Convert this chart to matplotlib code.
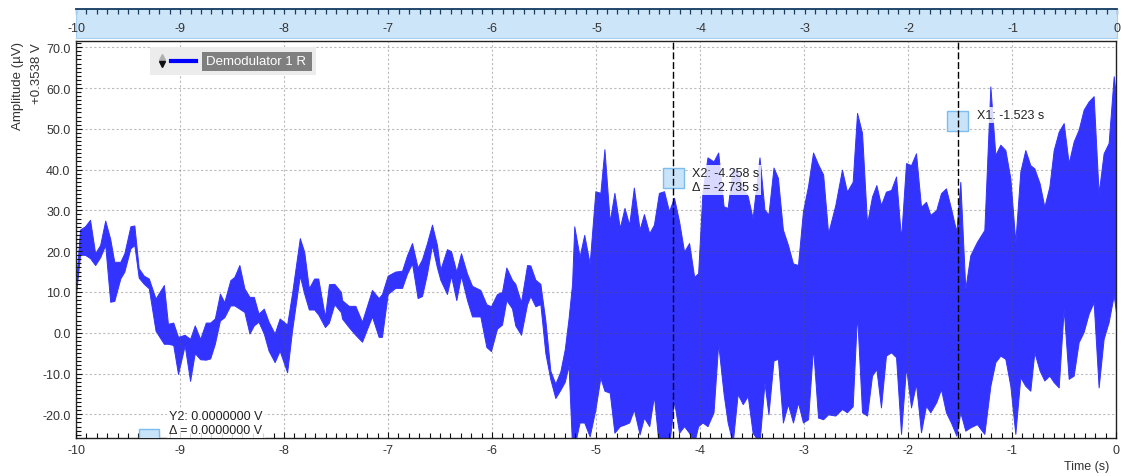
import matplotlib
matplotlib.use('Agg')
import matplotlib.pyplot as plt
from matplotlib.patches import Rectangle
from matplotlib.lines import Line2D
from matplotlib.ticker import MultipleLocator, FormatStrFormatter
from matplotlib.transforms import IdentityTransform

plt.rcParams['font.family'] = ['Liberation Sans', 'DejaVu Sans']
plt.rcParams['axes.unicode_minus'] = False

# Demodulator 1 R envelope: time (s), min / max amplitude (uV, offset +0.3538 V)
time_s = [-10.0, -9.961, -9.913, -9.865, -9.816, -9.768, -9.719, -9.671, -9.632, -9.574,
          -9.535, -9.477, -9.439, -9.397, -9.348, -9.300, -9.235, -9.155, -9.116, -9.065,
          -9.019, -8.955, -8.903, -8.858, -8.806, -8.752, -8.710, -8.665, -8.616, -8.574,
          -8.516, -8.477, -8.429, -8.381, -8.332, -8.290, -8.245, -8.194, -8.148, -8.090,
          -8.042, -7.970, -7.923, -7.848, -7.806, -7.761, -7.710, -7.671, -7.606, -7.568,
          -7.516, -7.452, -7.442, -7.378, -7.314, -7.250, -7.154, -7.090, -7.058, -7.003,
          -6.930, -6.865, -6.817, -6.769, -6.715, -6.673, -6.625, -6.577, -6.529, -6.497,
          -6.433, -6.394, -6.343, -6.298, -6.240, -6.192, -6.112, -6.054, -6.010, -5.952,
          -5.904, -5.862, -5.808, -5.776, -5.721, -5.663, -5.631, -5.583, -5.535, -5.487,
          -5.439, -5.391, -5.343, -5.300, -5.264, -5.230, -5.209, -5.158, -5.113, -5.061,
          -5.006, -4.958, -4.919, -4.868, -4.823, -4.771, -4.726, -4.681, -4.636, -4.581,
          -4.539, -4.488, -4.443, -4.395, -4.346, -4.298, -4.250, -4.201, -4.153, -4.105,
          -4.056, -4.018, -3.976, -3.928, -3.870, -3.825, -3.773, -3.734, -3.686, -3.638,
          -3.589, -3.541, -3.494, -3.428, -3.380, -3.342, -3.293, -3.251, -3.203, -3.155,
          -3.106, -3.058, -3.010, -2.961, -2.913, -2.865, -2.816, -2.768, -2.699, -2.635,
          -2.587, -2.532, -2.490, -2.442, -2.394, -2.346, -2.304, -2.260, -2.212, -2.163,
          -2.115, -2.067, -2.019, -1.971, -1.923, -1.875, -1.827, -1.785, -1.728, -1.683,
          -1.635, -1.587, -1.535, -1.497, -1.449, -1.401, -1.337, -1.266, -1.208, -1.160,
          -1.112, -1.064, -1.016, -0.968, -0.920, -0.872, -0.824, -0.785, -0.734, -0.689,
          -0.641, -0.599, -0.551, -0.503, -0.455, -0.407, -0.359, -0.311, -0.263, -0.215,
          -0.167, -0.119, -0.071, -0.022, 0.0]
r_min = [9.5, 19.1, 19.1, 18.3, 16.6, 18.5, 21.5, 7.6, 7.8, 13.3,
         15.0, 20.7, 21.5, 13.5, 12.0, 10.9, 0.5, -2.7, -2.7, -3.0,
         -10.1, -3.1, -11.8, -5.0, -6.5, -6.6, -6.3, -2.7, 3.0, 3.8,
         6.7, 6.7, 5.9, 5.1, -0.2, 1.8, 2.7, -0.2, -4.4, -7.2,
         -4.4, -9.7, 0.5, 14.0, 9.6, 5.7, 5.7, 4.5, 1.4, 2.5,
         7.0, 5.0, 3.5, 1.4, -0.5, -2.2, 4.0, -1.0, -1.0, 9.5,
         11.0, 11.0, 14.5, 17.0, 8.5, 9.0, 14.5, 21.5, 16.0, 13.0,
         9.5, 14.0, 8.0, 14.0, 8.0, 4.0, 4.0, -3.5, -4.5, 1.0,
         2.0, 8.0, 6.0, 1.8, -0.5, 7.0, 9.0, 6.5, 7.0, -5.0,
         -11.4, -16.0, -14.0, -12.0, -8.0, -28.0, -28.0, -22.0, -22.0, -25.4,
         -18.8, -11.0, -14.2, -14.7, -24.5, -22.9, -22.5, -22.0, -18.8, -24.9,
         -20.8, -22.9, -15.5, -28.0, -28.0, -28.0, -16.7, -24.5, -22.9, -24.5,
         -27.0, -22.9, -22.0, -22.9, -19.5, -2.7, -15.0, -22.0, -27.0, -15.0,
         -17.5, -15.5, -24.5, -27.0, -12.2, -20.0, -6.8, -6.4, -22.0, -17.5,
         -22.0, -17.1, -22.0, -21.2, -3.5, -20.8, -21.2, -20.0, -20.3, -18.7,
         -19.5, -18.0, 4.7, -19.5, -20.3, -10.5, -8.9, -18.3, -5.6, -4.8,
         -6.0, -24.8, -8.4, -18.3, -12.5, -24.4, -17.9, -19.5, -17.0, -13.8,
         -19.5, -22.0, -25.2, -19.5, -24.0, -23.2, -22.4, -24.8, -13.0, -7.2,
         -5.6, -6.4, -13.0, -24.8, -10.9, -13.0, -14.2, -4.8, -9.3, -11.7,
         -10.5, -12.1, -13.4, 5.9, -11.3, -10.5, -2.3, 0.2, 4.7, 7.5,
         -13.4, -1.5, 2.6, 9.2, 5.0]
r_max = [12.0, 25.3, 26.1, 27.7, 19.5, 21.5, 27.5, 23.0, 17.4, 17.4,
         19.5, 26.1, 26.3, 15.8, 14.0, 13.3, 8.4, 11.7, 2.2, 2.5,
         -1.0, -0.5, -1.5, 1.8, -1.5, 2.5, 2.5, 3.5, 9.6, 7.5,
         12.9, 13.7, 16.6, 10.9, 8.8, 8.8, 4.7, 5.9, 2.7, -0.2,
         3.5, 2.0, 9.6, 23.2, 19.9, 10.9, 13.3, 13.3, 3.9, 11.9,
         12.0, 10.0, 8.0, 6.6, 6.6, 2.7, 10.5, 8.5, 9.5, 14.0,
         15.0, 15.2, 19.0, 22.0, 16.0, 18.0, 22.0, 26.5, 21.5, 15.5,
         20.5, 20.0, 15.0, 19.5, 14.5, 11.5, 10.5, 7.0, 6.5, 9.5,
         10.0, 16.0, 13.0, 12.0, 7.5, 16.6, 16.5, 13.0, 12.0, 3.0,
         -9.3, -12.5, -9.5, -4.0, 3.5, 12.0, 26.1, 18.7, 24.0, 17.0,
         34.7, 34.3, 45.0, 27.3, 34.3, 25.7, 30.6, 26.5, 35.6, 25.3,
         29.1, 24.4, 26.5, 34.3, 34.7, 29.8, 33.1, 27.3, 19.9, 22.0,
         13.7, 14.6, 34.7, 43.0, 42.0, 44.2, 31.0, 30.6, 40.5, 39.7,
         35.6, 33.5, 28.1, 43.0, 30.2, 29.0, 40.5, 38.0, 25.3, 21.6,
         17.0, 16.6, 29.8, 36.0, 44.2, 41.3, 38.8, 24.4, 31.3, 40.0,
         34.6, 37.0, 53.9, 49.0, 26.8, 33.4, 36.2, 31.3, 34.6, 35.0,
         38.3, 23.1, 41.6, 41.1, 44.0, 30.9, 32.1, 28.9, 30.1, 34.2,
         35.4, 30.5, 24.8, 37.0, 10.8, 19.0, 22.3, 25.2, 60.4, 43.6,
         46.1, 44.8, 37.9, 22.3, 39.5, 44.8, 41.1, 40.3, 36.6, 30.9,
         35.8, 44.8, 49.3, 51.4, 41.6, 46.9, 49.8, 54.7, 56.7, 58.0,
         34.2, 44.0, 46.5, 62.9, 58.0]

cursor_x1 = -1.523
cursor_x2 = -4.258
delta_x = cursor_x1 - cursor_x2
x_ticks = list(range(-10, 1))

W, H = 1121, 477
fig = plt.figure(figsize=(W / 100, H / 100), dpi=100)
ident = IdentityTransform()


def fx(x):
    return x / W


def fy(y):
    return 1 - y / H


# main plot
ax = fig.add_axes([fx(76), fy(439), (1116 - 76) / W, (439 - 41.7) / H])
ax.fill_between(time_s, r_min, r_max, color='#3333ff', lw=0.7, zorder=2)
ax.set_xlim(-10, 0)
ax.set_ylim(-25.8, 71.6)
ax.set_xticks(x_ticks)
ax.xaxis.set_minor_locator(MultipleLocator(0.1))
ax.yaxis.set_major_locator(MultipleLocator(10))
ax.yaxis.set_minor_locator(MultipleLocator(1))
ax.yaxis.set_major_formatter(FormatStrFormatter('%.1f'))
ax.xaxis.set_major_formatter(FormatStrFormatter('%d'))
ax.tick_params(which='both', direction='in', colors='#111111', labelcolor='#333333',
               labelsize=9, pad=4, width=0.8)
ax.tick_params(which='major', length=4)
ax.tick_params(which='minor', length=3.3)
ax.grid(True, which='major', color='#555555', alpha=0.4, linestyle=(0, (2, 2)), lw=0.8, zorder=3)
ax.set_axisbelow(False)
for s in ax.spines.values():
    s.set_color('#222222')
    s.set_linewidth(1.0)

# top time bar
ax_t = fig.add_axes([fx(76), fy(38.5), (1117 - 76) / W, 28.5 / H])
ax_t.set_facecolor('#cde5f8')
ax_t.set_xlim(-10, 0)
ax_t.set_ylim(0, 1)
ax_t.set_yticks([])
ax_t.set_xticks(x_ticks)
ax_t.xaxis.set_minor_locator(MultipleLocator(0.1))
ax_t.xaxis.set_ticks_position('top')
ax_t.tick_params(which='both', direction='in', length=3.8, width=0.9, colors='#1c3d5e',
                 labeltop=False, labelbottom=False)
for v in x_ticks:
    ax_t.text(v, 0.34, str(v), ha='center', va='center', fontsize=9, color='#333333')
ax_t.spines['top'].set_color('#123a60')
ax_t.spines['top'].set_linewidth(1.3)
for k in ['left', 'right', 'bottom']:
    ax_t.spines[k].set_color('#a5d0f2')

# axis labels
fig.text(fx(18), fy(42), 'Amplitude (µV)', rotation=90, ha='center', va='top',
         fontsize=9.5, color='#333333')
fig.text(fx(37), fy(43), '+0.3538 V', rotation=90, ha='center', va='top',
         fontsize=9.5, color='#333333')
fig.text(fx(1087), fy(467), 'Time (s)', ha='center', va='center', fontsize=9, color='#333333')

# cursors
for cx in [cursor_x1, cursor_x2]:
    ax.axvline(cx, color='black', lw=1.0, linestyle=(0, (5, 2)), zorder=6)


def box(x0, y0, x1, y1, **kw):
    r = Rectangle((x0, H - y1), x1 - x0, y1 - y0, transform=ident, **kw)
    ax.add_patch(r)
    return r


def label(x, y, s, **kw):
    ax.text(x, H - y, s, transform=ident, fontsize=9, color='#222222', zorder=7, **kw)


marker_style = dict(facecolor='#c9e3f9', edgecolor='#7dbcee', lw=1.0, zorder=5)
px2 = ax.transData.transform((cursor_x2, 0))[0]
px1 = ax.transData.transform((cursor_x1, 0))[0]
box(px2 - 10.5, 169, px2 + 10.5, 189, **marker_style)
box(px1 - 10.5, 112, px1 + 10.5, 132, **marker_style)
box(139, 430, 159, 450, **marker_style)

white_bg = dict(facecolor='white', alpha=0.82, edgecolor='none', pad=1.5)
label(692, 181, 'X2: %.3f s\nΔ = %.3f s' % (cursor_x2, -delta_x), ha='left', va='center',
      linespacing=1.25, bbox=white_bg)
label(977, 116, 'X1: %.3f s' % cursor_x1, ha='left', va='center', bbox=white_bg)
label(169, 424, 'Y2: 0.0000000 V\nΔ = 0.0000000 V', ha='left', va='center',
      linespacing=1.25, bbox=white_bg)

# legend
box(150, 48, 316, 76, facecolor='#ececec', edgecolor='none', zorder=8)
box(202, 53, 312, 72, facecolor='#7f7f7f', edgecolor='none', zorder=9)
ax.add_line(Line2D([171, 196], [H - 61.5, H - 61.5], transform=ident, color='#0000ff',
                   lw=3, zorder=9))
ax.add_line(Line2D([162], [H - 58], transform=ident, marker='^', color='#b0b0b0',
                   markersize=4, ls='none', zorder=9))
ax.add_line(Line2D([162], [H - 64.5], transform=ident, marker='v', color='#111111',
                   markersize=4, ls='none', zorder=9))
ax.text(206, H - 62.5, 'Demodulator 1 R', transform=ident, ha='left', va='center',
        fontsize=9.5, color='white', zorder=10)

fig.savefig('out.png', dpi=100)
